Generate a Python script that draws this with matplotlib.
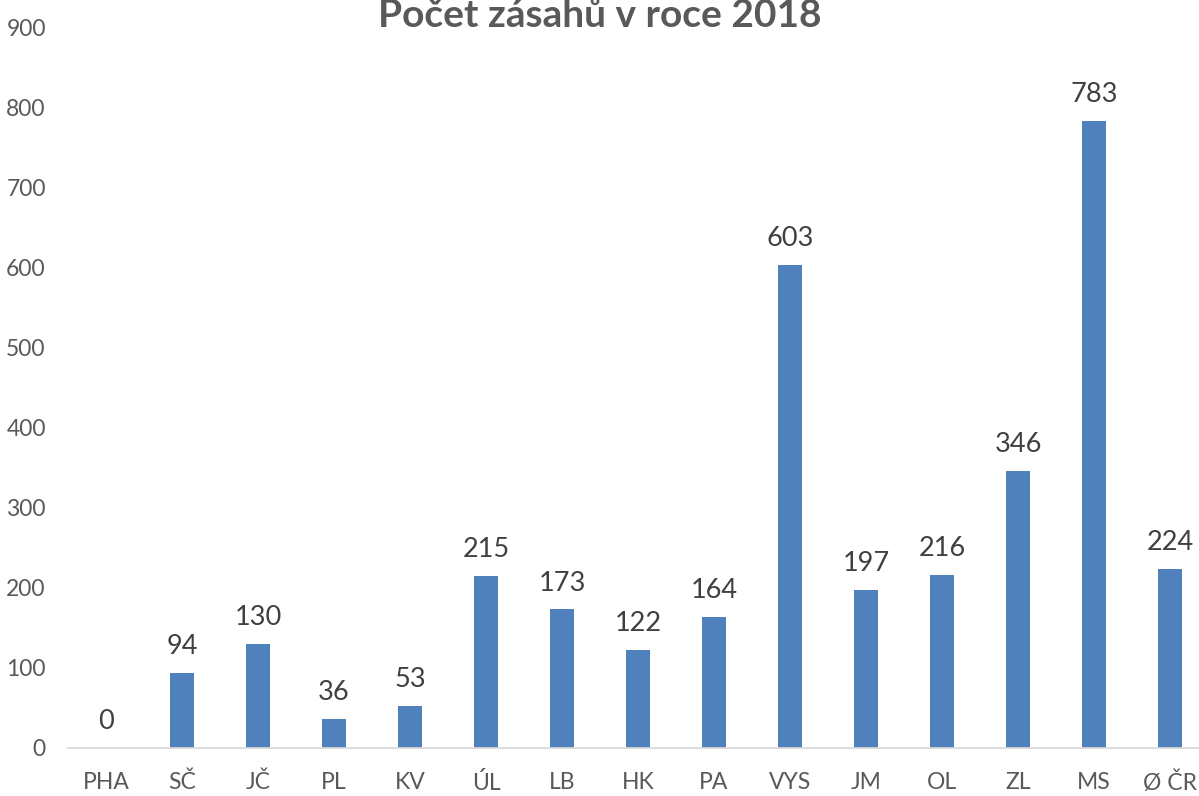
import matplotlib.pyplot as plt
import numpy as np

plt.rcParams['font.family'] = ['Lato', 'DejaVu Sans']

kraje = ['PHA', 'SČ', 'JČ', 'PL', 'KV', 'ÚL', 'LB', 'HK', 'PA', 'VYS', 'JM', 'OL', 'ZL', 'MS', 'Ø ČR']
zasahy = [0, 94, 130, 36, 53, 215, 173, 122, 164, 603, 197, 216, 346, 783, 224]

W, H = 1199, 796
fig = plt.figure(figsize=(W / 100, H / 100), dpi=100)
# axis runs a bit past the right edge, like the cropped original
ax = fig.add_axes([68 / W, 48 / H, 1140 / W, 721 / H])

x = np.arange(len(kraje))
bars = ax.bar(x, zasahy, width=0.32, color='#4F81BD', zorder=2)
for xi, v in zip(x, zasahy):
	ax.annotate(str(v), (xi, v), xytext=(0, 10), textcoords='offset points',
		ha='center', va='bottom', fontsize=19.5, color='#404040')

ax.set_xlim(-0.5, len(kraje) - 0.5)
ax.set_ylim(0, 900)
ax.set_yticks(range(0, 901, 100))
ax.set_xticks(x)
ax.set_xticklabels(kraje)
ax.tick_params(axis='both', length=0, labelsize=16.5, colors='#595959')
ax.tick_params(axis='y', pad=16)
ax.tick_params(axis='x', pad=17)
for s in ['top', 'right', 'left']:
	ax.spines[s].set_visible(False)
ax.spines['bottom'].set_color('#D9D9D9')
ax.spines['bottom'].set_linewidth(1.3)

fig.text(0.5, 1 - 27 / H, 'Počet zásahů v roce 2018', ha='center', va='baseline',
	fontsize=28, fontweight='bold', color='#595959')

fig.savefig('out.png', dpi=100)
